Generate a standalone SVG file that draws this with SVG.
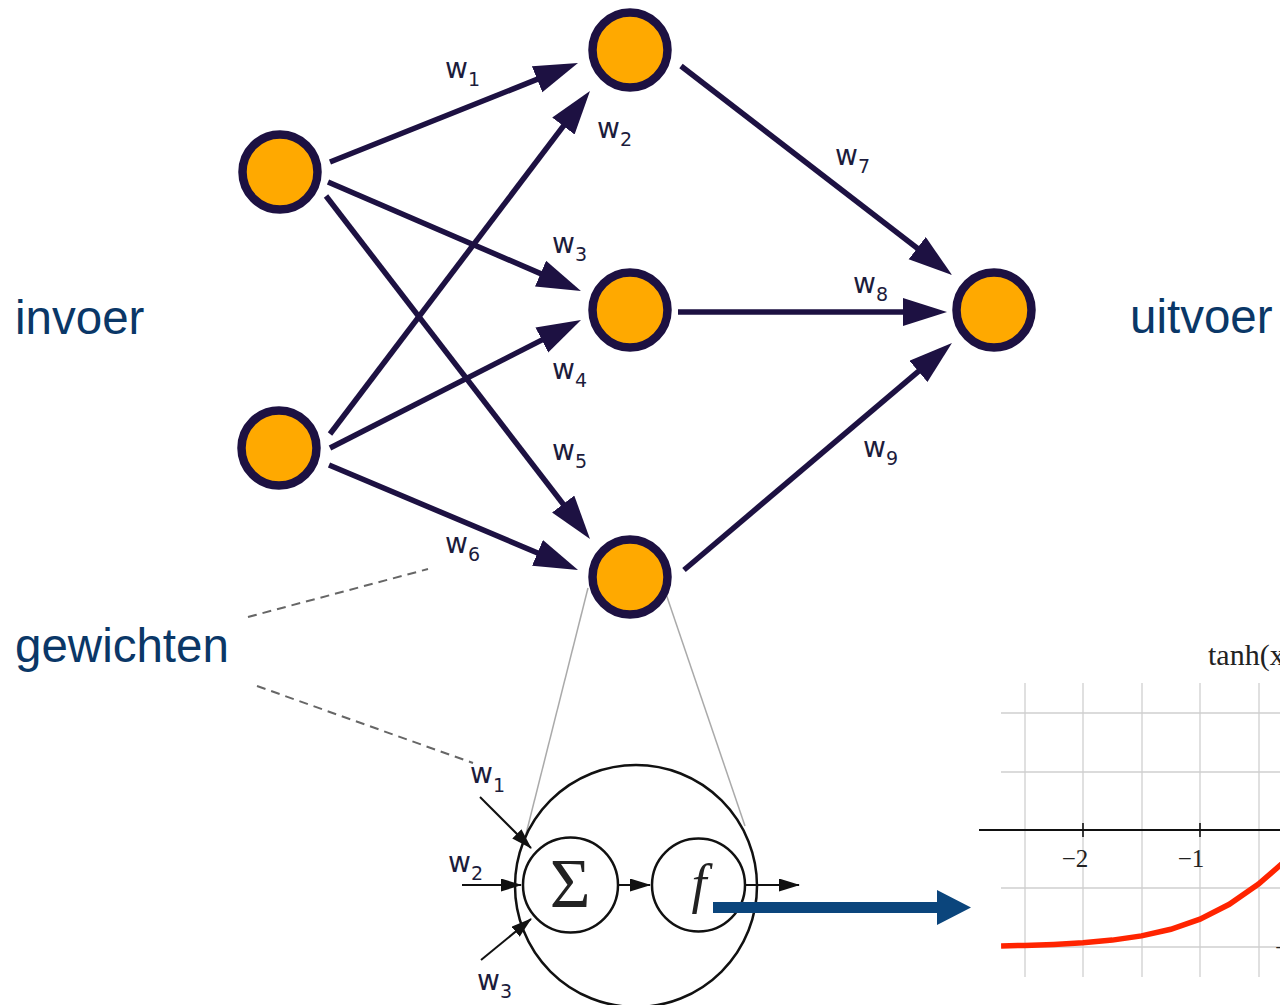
<svg xmlns="http://www.w3.org/2000/svg" width="1280" height="1005" viewBox="0 0 1280 1005">
  <defs>
    <style>
      .edge { stroke: #1d1142; stroke-width: 5.5; fill: none; marker-end: url(#head); }
      .node circle { fill: #ffa900; stroke: #1d1142; stroke-width: 8.5; }
      .wl { font-family: "DejaVu Sans", sans-serif; font-size: 28px; fill: #1c1c3c; }
      .sub { font-size: 19px; }
      .big { font-family: "Liberation Sans", Arial, sans-serif; font-size: 47.5px; fill: #0a3767; }
      .dash { stroke: #666; stroke-width: 2; stroke-dasharray: 9 6; fill: none; }
      .zoom { stroke: #aaa; stroke-width: 1.5; fill: none; }
      .ring { stroke: #111; stroke-width: 2.5; fill: none; }
      .arr { stroke: #111; stroke-width: 2; fill: none; marker-end: url(#small); }
      .grid { stroke: #cfcfcf; stroke-width: 1.3; }
      .math { font-family: "Liberation Serif", "Times New Roman", serif; fill: #222; }
    </style>
    <marker id="head" markerUnits="userSpaceOnUse" markerWidth="46" markerHeight="30" refX="24" refY="14" orient="auto">
      <path d="M0,0 L44,14 L0,28 Z" fill="#1d1142"/>
    </marker>
    <marker id="small" markerUnits="userSpaceOnUse" markerWidth="22" markerHeight="14" refX="20" refY="6.5" orient="auto">
      <path d="M0,0 L21,6.5 L0,13 Z" fill="#111"/>
    </marker>
  </defs>
  <rect width="1280" height="1005" fill="#fff"/>

  <!-- zoom lines from the lower hidden node to the neuron close-up -->
  <g id="zoom-lines">
    <line class="zoom" x1="588" y1="588" x2="526" y2="834"/>
    <line class="zoom" x1="664" y1="588" x2="745" y2="826"/>
  </g>

  <!-- callout lines for the weights label -->
  <g id="callouts">
    <line class="dash" x1="248" y1="617" x2="428" y2="569"/>
    <line class="dash" x1="257" y1="686" x2="473" y2="763"/>
  </g>

  <!-- weighted connections -->
  <g id="connectors">
    <line class="edge" x1="330" y1="162" x2="559.4" y2="70.4"/>
    <line class="edge" x1="330" y1="434" x2="577.9" y2="106.9"/>
    <line class="edge" x1="328" y1="182" x2="562.6" y2="283.1"/>
    <line class="edge" x1="330" y1="448" x2="563.2" y2="329.1"/>
    <line class="edge" x1="326" y1="196" x2="577.8" y2="523.1"/>
    <line class="edge" x1="329" y1="465" x2="559.6" y2="562.2"/>
    <line class="edge" x1="681" y1="66" x2="936.2" y2="262.8"/>
    <line class="edge" x1="678" y1="312" x2="927" y2="312"/>
    <line class="edge" x1="684" y1="570" x2="936.7" y2="355.9"/>
  </g>

  <!-- neurons -->
  <g id="in1" class="node"><circle cx="280" cy="172" r="37.5"/></g>
  <g id="in2" class="node"><circle cx="279" cy="448" r="37.5"/></g>
  <g id="hid1" class="node"><circle cx="630" cy="50" r="37.5"/></g>
  <g id="hid2" class="node"><circle cx="630" cy="310" r="37.5"/></g>
  <g id="hid3" class="node"><circle cx="630" cy="577" r="37.5"/></g>
  <g id="out" class="node"><circle cx="994" cy="310" r="37.5"/></g>

  <!-- weight labels -->
  <g id="weights">
    <text class="wl" x="445" y="78">w<tspan class="sub" dy="8">1</tspan></text>
    <text class="wl" x="597" y="138">w<tspan class="sub" dy="8">2</tspan></text>
    <text class="wl" x="552" y="253">w<tspan class="sub" dy="8">3</tspan></text>
    <text class="wl" x="552" y="379">w<tspan class="sub" dy="8">4</tspan></text>
    <text class="wl" x="552" y="460">w<tspan class="sub" dy="8">5</tspan></text>
    <text class="wl" x="445" y="553">w<tspan class="sub" dy="8">6</tspan></text>
    <text class="wl" x="835" y="165">w<tspan class="sub" dy="8">7</tspan></text>
    <text class="wl" x="853" y="293">w<tspan class="sub" dy="8">8</tspan></text>
    <text class="wl" x="863" y="457">w<tspan class="sub" dy="8">9</tspan></text>
  </g>

  <!-- side labels -->
  <g id="labels">
    <text class="big" x="15" y="334">invoer</text>
    <text class="big" x="1130" y="333">uitvoer</text>
    <text class="big" x="15" y="662">gewichten</text>
  </g>

  <!-- single neuron close-up: sum then activation -->
  <g id="neuron">
    <circle class="ring" cx="636" cy="886" r="121" fill="#fff"/>
    <circle class="ring" cx="570.5" cy="885" r="47.5"/>
    <circle class="ring" cx="698.5" cy="885" r="46.5"/>
    <text class="math" x="570" y="907" font-size="70" text-anchor="middle">Σ</text>
    <text class="math" x="699" y="902" font-size="54" font-style="italic" text-anchor="middle">f</text>
    <line class="arr" x1="480" y1="797" x2="531" y2="848"/>
    <line class="arr" x1="462" y1="885" x2="521" y2="885"/>
    <line class="arr" x1="481" y1="960" x2="531" y2="919"/>
    <line class="arr" x1="618" y1="885" x2="650" y2="885"/>
    <line class="arr" x1="745" y1="885" x2="799" y2="885"/>
    <text class="wl" x="470" y="783">w<tspan class="sub" dy="9">1</tspan></text>
    <text class="wl" x="448" y="872">w<tspan class="sub" dy="8">2</tspan></text>
    <text class="wl" x="477" y="990">w<tspan class="sub" dy="8">3</tspan></text>
  </g>

  <!-- tanh activation plot -->
  <g id="tanh-plot">
    <g class="grid">
      <line x1="1025" y1="683" x2="1025" y2="977"/>
      <line x1="1083" y1="683" x2="1083" y2="977"/>
      <line x1="1142" y1="683" x2="1142" y2="977"/>
      <line x1="1200" y1="683" x2="1200" y2="977"/>
      <line x1="1259" y1="683" x2="1259" y2="977"/>
      <line x1="1001" y1="713" x2="1280" y2="713"/>
      <line x1="1001" y1="772" x2="1280" y2="772"/>
      <line x1="1001" y1="888" x2="1280" y2="888"/>
      <line x1="1001" y1="947" x2="1280" y2="947"/>
    </g>
    <line x1="979" y1="830" x2="1280" y2="830" stroke="#111" stroke-width="2.2"/>
    <line x1="1083" y1="823" x2="1083" y2="837" stroke="#111" stroke-width="1.6"/>
    <line x1="1200" y1="823" x2="1200" y2="837" stroke="#111" stroke-width="1.6"/>
    <text class="math" x="1075" y="867" font-size="25" text-anchor="middle">−2</text>
    <text class="math" x="1191" y="867" font-size="25" text-anchor="middle">−1</text>
    <text class="math" x="1275" y="956" font-size="25">−1</text>
    <text class="math" x="1208" y="665" font-size="30">tanh(x)</text>
    <polyline fill="none" stroke="#ff2400" stroke-width="5.5" points="1001.1,945.9 1024.5,945.4 1053.8,944.4 1083,942.8 1112.3,940.1 1141.5,935.9 1170.8,929.3 1200,919.1 1229.3,904.3 1258.5,884.1 1287.8,858.7"/>
  </g>

  <!-- link from the activation to its plot -->
  <g id="link-arrow">
    <path d="M713,902 H937 V890 L971,907.5 L937,925 V913 H713 Z" fill="#0b457c"/>
  </g>
</svg>
